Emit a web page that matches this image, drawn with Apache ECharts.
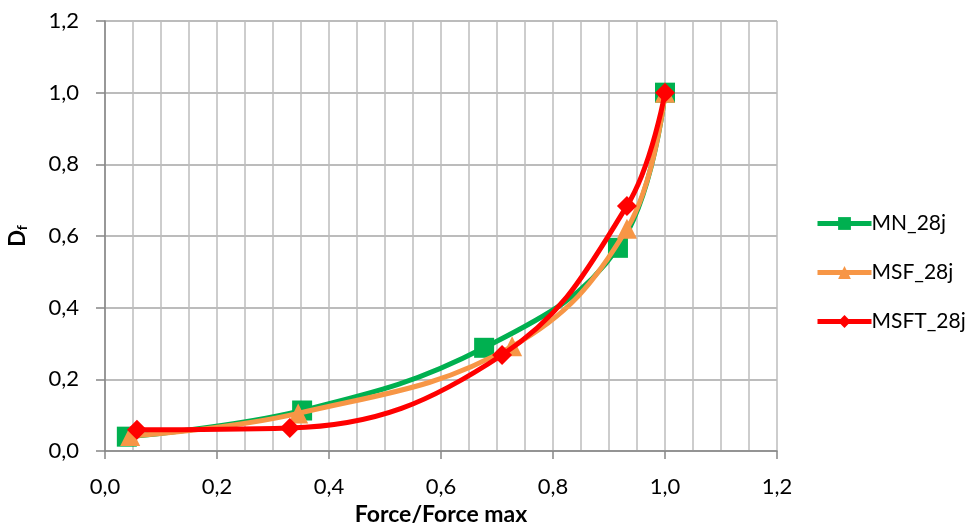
<!DOCTYPE html>
<html>
<head>
<meta charset="utf-8">
<script src="https://cdn.jsdelivr.net/npm/echarts@6/dist/echarts.min.js"></script>
<style>
  html, body { margin: 0; padding: 0; background: #fff; }
  #chart { width: 968px; height: 524px; }
</style>
</head>
<body>
<div id="chart"></div>
<script>
// data
const seriesNames = ['MN_28j', 'MSF_28j', 'MSFT_28j']
const mnX = [0.039, 0.352, 0.677, 0.916, 1.0]
const mnY = [0.040, 0.113, 0.288, 0.567, 1.0]
const msfX = [0.045, 0.345, 0.727, 0.932, 1.0]
const msfY = [0.042, 0.105, 0.292, 0.620, 1.0]
const msftX = [0.057, 0.330, 0.709, 0.932, 1.0]
const msftY = [0.059, 0.064, 0.268, 0.684, 1.0]
const colors = ['#00B050', '#F79646', '#FF0000']
const symbols = ['rect', 'triangle', 'diamond']

const fontFamily = 'Lato, "Open Sans", sans-serif'

function pairs(xs, ys) {
  return xs.map((x, i) => [x, ys[i]])
}

function fmt(v) {
  return v.toFixed(1).replace('.', ',')
}

const chart = echarts.init(document.getElementById('chart'))

const dataSets = [pairs(mnX, mnY), pairs(msfX, msfY), pairs(msftX, msftY)]

const option = {
  backgroundColor: '#fff',
  animation: false,
  textStyle: { fontFamily },
  grid: {
    left: 105,
    right: 191,
    top: 21,
    bottom: 73,
    containLabel: false,
    outerBoundsMode: 'none',
  },
  legend: {
    orient: 'vertical',
    left: 810,
    top: 208,
    itemWidth: 54,
    itemHeight: 16,
    itemGap: 28,
    data: seriesNames,
    lineStyle: { width: 5 },
    textStyle: {
      fontFamily,
      fontSize: 21,
      color: '#000',
      padding: [0, 0, 0, -5],
    },
  },
  xAxis: {
    type: 'value',
    min: 0,
    max: 1.2,
    interval: 0.2,
    name: 'Force/Force max',
    nameLocation: 'middle',
    nameGap: 50,
    nameTextStyle: {
      fontFamily,
      fontSize: 23,
      fontWeight: 'bold',
      color: '#000',
    },
    axisLine: {
      lineStyle: { color: '#868686', width: 1.5 },
    },
    axisTick: {
      show: true,
      length: 8,
      lineStyle: { color: '#868686', width: 1.5 },
    },
    axisLabel: {
      fontFamily,
      fontSize: 22,
      color: '#000',
      margin: 25,
      formatter: fmt,
    },
    splitLine: {
      show: true,
      lineStyle: { color: '#bdbdbd', width: 1.5 },
    },
    minorTick: {
      show: false,
      splitNumber: 4,
    },
    minorSplitLine: {
      show: true,
      lineStyle: { color: '#bdbdbd', width: 1.5 },
    },
  },
  yAxis: {
    type: 'value',
    min: 0,
    max: 1.2,
    interval: 0.2,
    name: '{d|D}{s|f}',
    nameLocation: 'middle',
    nameRotate: 90,
    nameGap: 76,
    nameTextStyle: {
      rich: {
        d: {
          fontFamily,
          fontSize: 22,
          fontWeight: 'bold',
          color: '#000',
        },
        s: {
          fontFamily,
          fontSize: 14,
          fontWeight: 'bold',
          color: '#000',
          padding: [9, 0, 0, 0],
        },
      },
    },
    axisLine: {
      show: true,
      lineStyle: { color: '#868686', width: 1.5 },
    },
    axisTick: {
      show: true,
      length: 9,
      lineStyle: { color: '#868686', width: 1.5 },
    },
    axisLabel: {
      fontFamily,
      fontSize: 22,
      color: '#000',
      margin: 26,
      formatter: fmt,
    },
    splitLine: {
      show: true,
      lineStyle: { color: '#a6a6a6', width: 1.5 },
    },
  },
  series: seriesNames.map((name, i) => ({
    name,
    type: 'line',
    data: dataSets[i],
    smooth: 0.4,
    smoothConstraint: false,
    symbol: symbols[i],
    symbolSize: 20,
    z: 2 + i,
    lineStyle: {
      width: 5,
      color: colors[i],
    },
    itemStyle: {
      color: colors[i],
    },
  })),
}

chart.setOption(option)
</script>
</body>
</html>
